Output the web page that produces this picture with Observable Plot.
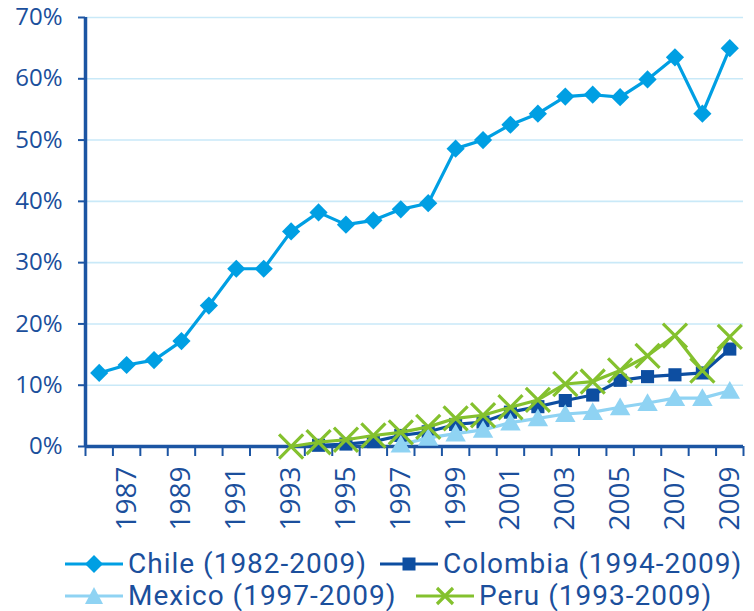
<!DOCTYPE html>
<html>
<head>
<meta charset="utf-8">
<script src="https://cdn.jsdelivr.net/npm/d3@7"></script>
<script src="https://cdn.jsdelivr.net/npm/@observablehq/plot@0.6"></script>
<style>
  html, body { margin: 0; padding: 0; background: #fff; }
  body { width: 754px; height: 611px; overflow: hidden; font-family: "Open Sans", sans-serif; }
  #chart svg { display: block; }
  .legend { position: relative; height: 63px; color: #1b4f9c; font-family: Roboto, sans-serif; font-size: 28px; letter-spacing: 1px; }
  .item { display: flex; align-items: center; position: absolute; white-space: nowrap; height: 32px; line-height: 32px; }
  .item span { display: block; height: 32px; line-height: 32px; }
  .item svg { display: block; margin-right: 5px; }
</style>
</head>
<body>
<div id="chart"></div>
<div class="legend" id="legend"></div>
<script>
// ---- data ----
const years = [1986, 1987, 1988, 1989, 1990, 1991, 1992, 1993, 1994, 1995, 1996, 1997,
               1998, 1999, 2000, 2001, 2002, 2003, 2004, 2005, 2006, 2007, 2008, 2009];
const labelYears = [1987, 1989, 1991, 1993, 1995, 1997, 1999, 2001, 2003, 2005, 2007, 2009];
const yTicks = [0, 10, 20, 30, 40, 50, 60, 70];

const countries = ["Chile", "Colombia", "Mexico", "Peru"];
const legendLabels = ["Chile (1982-2009)", "Colombia (1994-2009)", "Mexico (1997-2009)", "Peru (1993-2009)"];
const startYears = [1986, 1994, 1997, 1993];

const chile = [12.0, 13.3, 14.1, 17.2, 23.0, 29.0, 29.0, 35.1, 38.2, 36.2, 36.9, 38.7,
               39.7, 48.6, 50.0, 52.5, 54.3, 57.1, 57.4, 57.0, 59.9, 63.5, 54.3, 65.0];
const colombia = [0.2, 0.4, 0.8, 1.8, 2.4, 3.6, 4.0, 5.6, 6.5, 7.5, 8.4, 10.8, 11.4, 11.7, 12.0, 15.9];
const mexico = [0.3, 1.4, 2.1, 2.7, 3.9, 4.6, 5.3, 5.6, 6.4, 7.1, 7.9, 7.9, 9.1];
const peru = [0.0, 0.7, 1.1, 1.8, 2.3, 3.2, 4.6, 5.1, 6.4, 7.6, 10.2, 10.6, 12.4, 14.8, 18.1, 12.4, 17.9];

const colors = ["#009fe3", "#0d4ea1", "#8fd3f3", "#84c12e"];
const symbols = ["diamond2", "square", "triangle", "times"];

// ---- build table ----
const seriesValues = [chile, colombia, mexico, peru];
const rows = [];
countries.forEach((c, k) => {
  const i0 = years.indexOf(startYears[k]);
  seriesValues[k].forEach((v, i) => rows.push({country: c, year: years[i0 + i], value: v}));
});
const boundaries = [years[0] - 0.5, ...years.map(y => y + 0.5)];

const textColor = "#1b4f9c";
const axisColor = "#1c55a3";
const gridColor = "#c9e9f8";

const seriesMarks = countries.flatMap((c, k) => {
  const data = rows.filter(d => d.country === c);
  const line = Plot.line(data, {x: "year", y: "value", stroke: colors[k], strokeWidth: 3.2});
  let dot;
  if (symbols[k] === "times") {
    dot = Plot.dot(data, {x: "year", y: "value", symbol: "times", r: 11, stroke: colors[k], strokeWidth: 3.2, fill: "none"});
  } else if (symbols[k] === "diamond2") {
    dot = Plot.dot(data, {x: "year", y: "value", symbol: "diamond2", r: 8.2, fill: colors[k], stroke: "none"});
  } else if (symbols[k] === "square") {
    dot = Plot.dot(data, {x: "year", y: "value", symbol: "square", r: 7.4, fill: colors[k], stroke: "none"});
  } else {
    dot = Plot.dot(data, {x: "year", y: "value", symbol: "triangle", r: 7.6, dy: 2, fill: colors[k], stroke: "none"});
  }
  return [line, dot];
});

const chart = Plot.plot({
  width: 754,
  height: 548,
  marginLeft: 85,
  marginRight: 11,
  marginTop: 17,
  marginBottom: 102,
  style: {fontFamily: "Open Sans, sans-serif", color: textColor, background: "#fff", overflow: "visible"},
  x: {domain: [boundaries[0], boundaries[boundaries.length - 1]], axis: null},
  y: {domain: [0, 70], axis: null},
  marks: [
    Plot.ruleY(yTicks.filter(d => d > 0), {stroke: gridColor, strokeWidth: 1.6}),
    Plot.axisY(yTicks, {anchor: "left", label: null, tickSize: 7, tickPadding: 16, tickFormat: d => d + "%", fontSize: 24, stroke: axisColor, fill: textColor, strokeWidth: 2}),
    Plot.axisX(boundaries, {anchor: "bottom", label: null, tickSize: 10, tickFormat: () => "", stroke: axisColor, strokeWidth: 2}),
    Plot.text(labelYears, {x: d => d, y: () => 0, text: d => String(d), rotate: -90, textAnchor: "end", dy: 20, fontSize: 28, fill: textColor}),
    Plot.ruleX([boundaries[0]], {stroke: axisColor, strokeWidth: 3.5}),
    Plot.ruleY([0], {stroke: axisColor, strokeWidth: 3.5}),
    ...seriesMarks
  ]
});
document.getElementById("chart").appendChild(chart);

// ---- legend ----
function swatch(k) {
  const w = 58, h = 30, cx = w / 2, cy = h / 2;
  let m = "";
  const col = colors[k];
  if (symbols[k] === "diamond2") m = `<path d="M${cx},${cy-9}L${cx+9},${cy}L${cx},${cy+9}L${cx-9},${cy}Z" fill="${col}"/>`;
  else if (symbols[k] === "square") m = `<rect x="${cx-6.5}" y="${cy-6.5}" width="13" height="13" fill="${col}"/>`;
  else if (symbols[k] === "triangle") m = `<path d="M${cx},${cy-9}L${cx+9},${cy+8}L${cx-9},${cy+8}Z" fill="${col}"/>`;
  else m = `<path d="M${cx-8},${cy-8}L${cx+8},${cy+8}M${cx+8},${cy-8}L${cx-8},${cy+8}" stroke="${col}" stroke-width="3.2"/>`;
  return `<svg width="${w}" height="${h}"><line x1="0" x2="${w}" y1="${cy}" y2="${cy}" stroke="${col}" stroke-width="3.2"/>${m}</svg>`;
}
const positions = [[65, 0], [380, 0], [65, 32], [416, 32]];
const leg = document.getElementById("legend");
countries.forEach((c, k) => {
  const div = document.createElement("div");
  div.className = "item";
  div.style.left = positions[k][0] + "px";
  div.style.top = positions[k][1] + "px";
  div.innerHTML = swatch(k) + `<span>${legendLabels[k]}</span>`;
  leg.appendChild(div);
});
</script>
</body>
</html>
